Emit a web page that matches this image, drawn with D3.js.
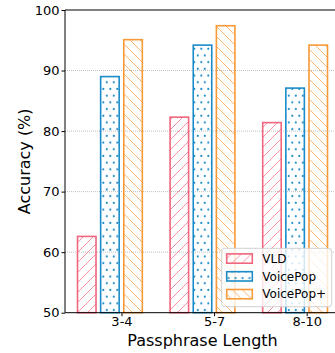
<!DOCTYPE html>
<html lang="en">
<head>
    <meta charset="UTF-8">
    <title>passphrase accuracy</title>
    <script src="https://d3js.org/d3.v7.min.js"></script>
    <style>
        body { margin: 0; background: #fff; }
        text { font-family: "DejaVu Sans", sans-serif; fill: #000; }
    </style>
</head>
<body>
    <div id="chart"></div>
    <script>
        // data
        var categories = ["3-4", "5-7", "8-10"];
        var series = ["VLD", "VoicePop", "VoicePop+"];
        var vld = [62.6, 82.3, 81.4];
        var voicePop = [89.0, 94.2, 87.1];
        var voicePopPlus = [95.1, 97.4, 94.2];
        var yTicks = [50, 60, 70, 80, 90, 100];

        var colors = ["#f0667e", "#1b8cc8", "#f89a38"];
        var patternIds = ["hatch-vld", "dots-vp", "hatch-vpp"];

        var W = 335, H = 353;
        var margin = {top: 10, left: 65, bottom: 40.3};
        var plotRight = 340;   // right spine falls outside the picture

        var svg = d3.select("#chart").append("svg")
            .attr("width", W).attr("height", H);

        var defs = svg.append("defs");

        // "/" hatch
        var p1 = defs.append("pattern").attr("id", patternIds[0])
            .attr("patternUnits", "userSpaceOnUse").attr("width", 10).attr("height", 10);
        p1.append("path").attr("d", "M0,10 L10,0 M-2,2 L2,-2 M8,12 L12,8")
            .attr("stroke", colors[0]).attr("stroke-width", 0.9).attr("opacity", 0.8);

        // "." dots
        var p2 = defs.append("pattern").attr("id", patternIds[1])
            .attr("patternUnits", "userSpaceOnUse").attr("width", 7).attr("height", 13.4);
        p2.append("circle").attr("cx", 1.8).attr("cy", 1.8).attr("r", 1.1).attr("fill", colors[1]);
        p2.append("circle").attr("cx", 5.3).attr("cy", 8.5).attr("r", 1.1).attr("fill", colors[1]);

        // "\" hatch
        var p3 = defs.append("pattern").attr("id", patternIds[2])
            .attr("patternUnits", "userSpaceOnUse").attr("width", 10).attr("height", 10);
        p3.append("path").attr("d", "M0,0 L10,10 M-2,8 L2,12 M8,-2 L12,2")
            .attr("stroke", colors[2]).attr("stroke-width", 0.9).attr("opacity", 0.8);

        var x = d3.scaleLinear().domain([-0.61, 2.36]).range([margin.left, plotRight]);
        var y = d3.scaleLinear().domain([50, 100]).range([H - margin.bottom, margin.top]);

        // grid
        svg.append("g").selectAll("line")
            .data(yTicks.filter(function(d){ return d > 50 && d < 100; }))
            .enter().append("line")
            .attr("x1", margin.left).attr("x2", plotRight)
            .attr("y1", function(d){ return y(d); }).attr("y2", function(d){ return y(d); })
            .attr("stroke", "#b0b0b0").attr("stroke-width", 0.8)
            .attr("stroke-dasharray", "1,1");

        // bars: centres at i - 1.5, -0.5, +0.5 strides from the tick
        var stride = 0.25, barW = 0.2;
        var values = [vld, voicePop, voicePopPlus];
        values.forEach(function(vals, s) {
            svg.append("g").selectAll("rect")
                .data(vals)
                .enter().append("rect")
                .attr("x", function(d, i){ return x(i + (s - 1.5) * stride - barW / 2); })
                .attr("y", function(d){ return y(d); })
                .attr("width", x(barW) - x(0))
                .attr("height", function(d){ return y(50) - y(d); })
                .attr("fill", "url(#" + patternIds[s] + ")")
                .attr("stroke", colors[s])
                .attr("stroke-width", 1.6);
        });

        // axes
        var yAxis = d3.axisLeft(y).tickValues(yTicks).tickSize(3.5).tickPadding(2)
            .tickFormat(d3.format("d"));
        var gy = svg.append("g").attr("transform", "translate(" + margin.left + ",0)").call(yAxis);
        gy.select(".domain").remove();
        gy.selectAll("text").attr("font-size", "13px").style("font-family", "DejaVu Sans");

        var xAxis = d3.axisBottom(x).tickValues([0, 1, 2]).tickSize(3.5).tickPadding(1)
            .tickFormat(function(d){ return categories[d]; });
        var gx = svg.append("g").attr("transform", "translate(0," + y(50) + ")").call(xAxis);
        gx.select(".domain").remove();
        gx.selectAll("text").attr("font-size", "13px").style("font-family", "DejaVu Sans");

        // spines
        svg.append("line").attr("x1", margin.left).attr("x2", margin.left)
            .attr("y1", y(100)).attr("y2", y(50)).attr("stroke", "#000").attr("stroke-width", 1);
        svg.append("line").attr("x1", margin.left).attr("x2", plotRight)
            .attr("y1", y(50)).attr("y2", y(50)).attr("stroke", "#000").attr("stroke-width", 1);
        svg.append("line").attr("x1", margin.left).attr("x2", plotRight)
            .attr("y1", y(100)).attr("y2", y(100)).attr("stroke", "#000").attr("stroke-width", 1);

        // axis labels
        svg.append("text").attr("x", (margin.left + plotRight) / 2).attr("y", 346)
            .attr("text-anchor", "middle").attr("font-size", "16px").text("Passphrase Length");
        svg.append("text")
            .attr("transform", "translate(30," + (y(75)) + ") rotate(-90)")
            .attr("text-anchor", "middle").attr("font-size", "16px").text("Accuracy (%)");

        // legend
        var lg = svg.append("g").attr("transform", "translate(221.7,248.3)");
        lg.append("rect").attr("width", 110).attr("height", 58.4).attr("rx", 3)
            .attr("fill", "#fff").attr("fill-opacity", 0.8)
            .attr("stroke", "#d0d0d0").attr("stroke-width", 1);
        series.forEach(function(name, s) {
            var row = lg.append("g").attr("transform", "translate(5," + (10.2 + s * 17.8) + ")");
            row.append("rect").attr("x", 0).attr("y", -4.6).attr("width", 25.6).attr("height", 9.3)
                .attr("fill", "url(#" + patternIds[s] + ")")
                .attr("stroke", colors[s]).attr("stroke-width", 1.6);
            row.append("text").attr("x", 35.6).attr("y", 0).attr("dy", "0.36em")
                .attr("font-size", "12px").text(name);
        });
    </script>
</body>
</html>
